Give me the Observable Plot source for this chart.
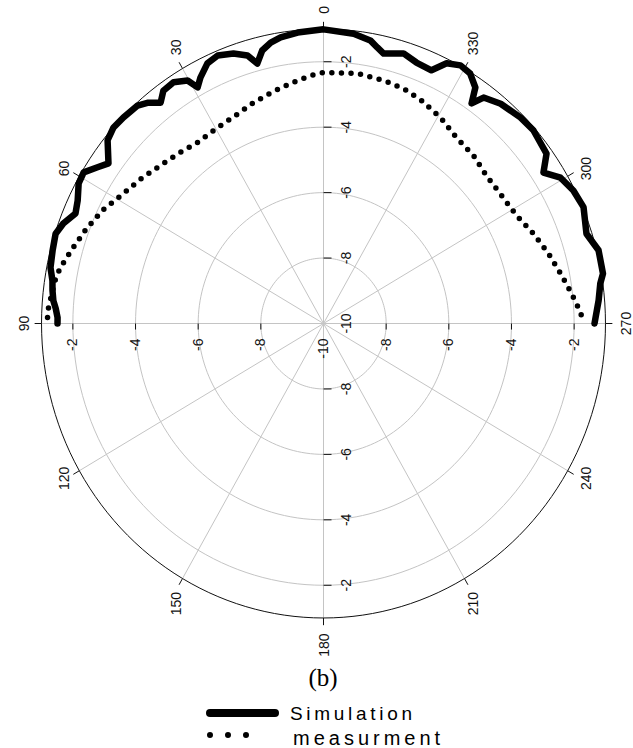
<!DOCTYPE html>
<html>
<head>
<meta charset="utf-8">
<script src="https://cdn.jsdelivr.net/npm/d3@7"></script>
<script src="https://cdn.jsdelivr.net/npm/@observablehq/plot@0.6"></script>
<style>
  html, body { margin: 0; padding: 0; background: #fff; }
  #wrap { width: 633px; height: 748px; position: relative; overflow: hidden; }
  #wrap > svg:first-child { display: block; }
  #legend { position: absolute; left: 0; top: 662px; }
</style>
</head>
<body>
<div id="wrap"></div>
<script>
// ---------- data (angle in degrees, counter-clockwise from top; value in dB) ----------
const simAngle = [90.0, 88.8, 86.9, 85.4, 83.3, 81.4, 78.9, 75.5, 72.2, 69.8, 67.0, 64.4, 61.3, 58.9, 56.5, 54.5,
  50.9, 48.2, 45.4, 41.7, 39.8, 37.6, 35.7, 33.0, 30.3, 29.1, 27.6, 25.0, 22.4, 19.2, 16.5, 14.9, 13.2, 11.1, 8.9, 5.3, 0.0,
  353.8, 350.2, 348.5, 346.9, 342.8, 339.6, 336.0, 333.7, 331.0, 328.5, 326.1, 324.9, 323.5, 319.9, 315.0, 311.4,
  306.1, 303.3, 300.5, 297.0, 293.2, 288.1, 284.3, 279.7, 277.9, 274.6, 270.0];
const simDb = [-1.51, -1.51, -1.44, -1.35, -1.29, -1.25, -1.12, -1.07, -1.02, -1.15, -1.40, -1.30, -1.09, -1.06, -1.35, -1.57,
  -1.12, -1.01, -1.03, -1.08, -1.22, -1.48, -1.24, -1.21, -1.40, -1.74, -1.52, -1.23, -1.14, -1.26, -1.46, -1.78, -1.43, -1.25, -1.15, -1.07, -1.01,
  -1.09, -1.22, -1.39, -1.53, -1.36, -1.49, -1.53, -1.13, -0.98, -1.04, -1.31, -1.78, -1.41, -1.22, -1.10, -1.07,
  -1.19, -1.60, -1.22, -1.05, -0.97, -1.17, -0.94, -0.95, -1.08, -1.19, -1.35];

const measAngle = [88.8, 86.8, 80.8, 78.5, 74.0, 69.0, 63.6, 58.1, 52.4, 47.1, 41.7, 36.0, 29.8, 23.8, 18.3, 12.7, 7.6, 3.1, 0.0,
  351.9, 345.5, 340.4, 335.4, 329.4, 323.2, 317.0, 311.0, 304.5, 298.2, 292.3, 286.6, 281.4, 276.6, 272.4, 270.0];
const measDb = [-1.19, -1.21, -1.34, -1.43, -1.67, -1.90, -2.16, -2.48, -2.70, -2.90, -3.04, -3.16, -3.13, -3.05, -2.89, -2.73, -2.57, -2.41, -2.33,
  -2.28, -2.33, -2.38, -2.50, -2.68, -2.91, -2.98, -3.11, -3.10, -3.01, -2.76, -2.51, -2.28, -2.03, -1.79, -1.70];

const angleTicks = [0, 30, 60, 90, 120, 150, 180, 210, 240, 270, 300, 330];
const angleTickLabels = ["0", "30", "60", "90", "120", "150", "180", "210", "240", "270", "300", "330"];
const ringDb = [-8, -6, -4, -2];
const centerDb = -10;
const outerDb = -1;
const vertTopDb = [-2, -4, -6, -8, -10];
const vertTopLabels = ["-2", "-4", "-6", "-8", "-10"];
const vertBottomDb = [-8, -6, -4, -2];
const vertBottomLabels = ["-8", "-6", "-4", "-2"];
const horizDb = [-2, -4, -6, -8, -10, -8, -6, -4, -2];
const horizSide = [-1, -1, -1, -1, 0, 1, 1, 1, 1];
const horizLabels = ["-2", "-4", "-6", "-8", "-10", "-8", "-6", "-4", "-2"];
const seriesNames = ["Simulation", "measurment"];
const captionText = "(b)";

// ---------- geometry helpers ----------
const W = 633, H = 662;
const cx = 323, cy = 323, kx = 31.33, ky = 32.72;   // pixel centre and px per dB
const rad = a => a * Math.PI / 180;
const rho = db => db - centerDb;
const polar = (a, db) => ({x: -rho(db) * Math.sin(rad(a)), y: rho(db) * Math.cos(rad(a))});

const sim = simAngle.map((a, i) => polar(a, simDb[i]));
const meas = measAngle.map((a, i) => polar(a, measDb[i]));

const circle = db => d3.range(0, 361, 2).map(a => ({...polar(a, db), db}));
const rings = ringDb.flatMap(circle);
const outer = circle(outerDb);
const spokes = angleTicks.map(a => ({a, ...polar(a, outerDb)}));
const tickMarks = angleTicks.map(a => {
  const p = polar(a, outerDb), q = polar(a, outerDb + 0.22);
  return {x1: p.x, y1: p.y, x2: q.x, y2: q.y};
});
const angLabels = angleTicks.map((a, i) => {
  const txt = angleTickLabels[i];
  const s = Math.sin(rad(a)), c = Math.cos(rad(a));
  const len = txt.length * 7.8;
  let px = cx - 9.47 * kx * s, py = cy - 9.47 * ky * c;
  if (Math.abs(c) > 0.7) { py -= Math.sign(c) * len / 2; px += 1.5; }
  else px += s > 0 ? -2 : 6.5;
  return {x: (px - cx) / kx, y: (cy - py) / ky, txt};
});
const vOff = 23 / kx;
const vertLabels = [
  ...vertTopDb.map((d, i) => ({x: vOff, y: rho(d), txt: vertTopLabels[i]})),
  ...vertBottomDb.map((d, i) => ({x: vOff, y: -rho(d), txt: vertBottomLabels[i]}))
];
const hLabels = horizDb.map((d, i) => ({x: horizSide[i] * rho(d), y: -15 / ky, txt: horizLabels[i]}));
const vTicks = [...ringDb.map(d => rho(d)), ...ringDb.map(d => -rho(d))]
  .map(y => ({x1: 0, x2: 8 / kx, y1: y, y2: y}));
const hTicks = [...ringDb.map(d => rho(d)), ...ringDb.map(d => -rho(d))]
  .map(x => ({x1: x, x2: x, y1: 0, y2: -6 / ky}));

const font = "'Liberation Sans', Arial, sans-serif";
const grid = "#c4c4c4";

const chart = Plot.plot({
  width: W, height: H, margin: 0,
  x: {domain: [(0 - cx) / kx, (W - cx) / kx], axis: null},
  y: {domain: [(cy - H) / ky, cy / ky], axis: null},
  style: {fontFamily: font, background: "#fff"},
  marks: [
    Plot.line(rings, {x: "x", y: "y", z: "db", stroke: grid, strokeWidth: 1}),
    Plot.link(spokes, {x1: 0, y1: 0, x2: "x", y2: "y", stroke: grid, strokeWidth: 1}),
    Plot.line(outer, {x: "x", y: "y", stroke: "#111", strokeWidth: 1}),
    Plot.link(tickMarks, {x1: "x1", y1: "y1", x2: "x2", y2: "y2", stroke: "#111", strokeWidth: 1}),
    Plot.link(vTicks, {x1: "x1", y1: "y1", x2: "x2", y2: "y2", stroke: "#111", strokeWidth: 1}),
    Plot.link(hTicks, {x1: "x1", y1: "y1", x2: "x2", y2: "y2", stroke: "#111", strokeWidth: 1}),
    Plot.text(angLabels, {x: "x", y: "y", text: "txt", rotate: -90, fontSize: 14, fill: "#111", textAnchor: "middle"}),
    Plot.text(vertLabels, {x: "x", y: "y", text: "txt", rotate: -90, fontSize: 14, fill: "#111", textAnchor: "middle"}),
    Plot.text(hLabels, {x: "x", y: "y", text: "txt", rotate: -90, fontSize: 14, fill: "#111", textAnchor: "end"}),
    Plot.line(meas, {x: "x", y: "y", stroke: "#000", strokeWidth: 5.5, strokeDasharray: "0 9.6", strokeLinecap: "round"}),
    Plot.line(sim, {x: "x", y: "y", stroke: "#000", strokeWidth: 6.5, strokeLinejoin: "round", strokeLinecap: "round"})
  ]
});

const wrap = document.getElementById("wrap");
wrap.appendChild(chart);

// caption + legend below the plot
const legend = document.createElementNS("http://www.w3.org/2000/svg", "svg");
legend.setAttribute("id", "legend");
legend.setAttribute("width", 633);
legend.setAttribute("height", 86);
legend.innerHTML = `
  <text x="323" y="23.5" text-anchor="middle" font-family="'Liberation Serif', 'Times New Roman', serif" font-size="25" fill="#000">${captionText}</text>
  <line x1="210" y1="51" x2="275" y2="51" stroke="#000" stroke-width="8" stroke-linecap="round"/>
  <line x1="210" y1="73" x2="264" y2="73" stroke="#000" stroke-width="6" stroke-linecap="round" stroke-dasharray="0 18"/>
  <text x="290" y="58" font-family="'Liberation Sans', Arial, sans-serif" font-size="19" letter-spacing="3.7" fill="#000">${seriesNames[0]}</text>
  <text x="293" y="83" font-family="'Liberation Sans', Arial, sans-serif" font-size="20" letter-spacing="4" fill="#000">${seriesNames[1]}</text>
`;
wrap.appendChild(legend);
</script>
</body>
</html>
